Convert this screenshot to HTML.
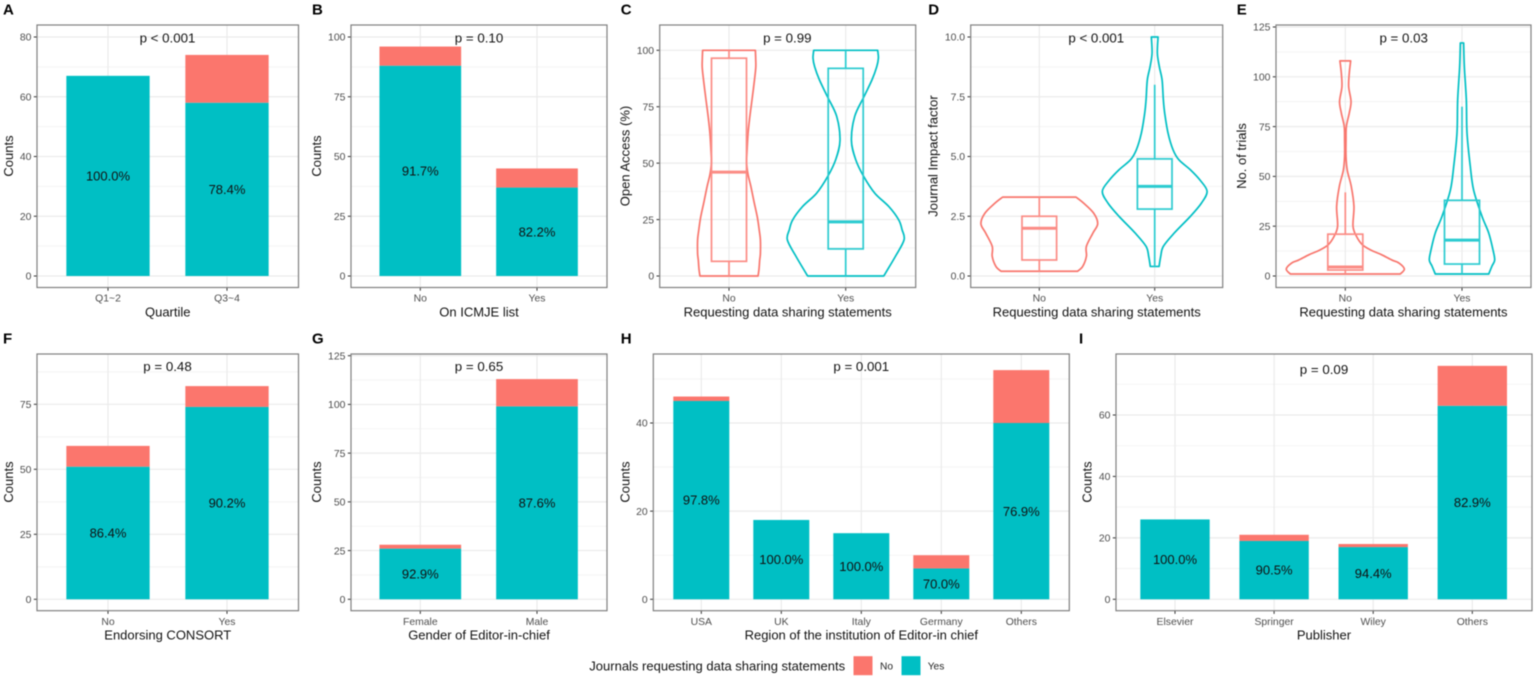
<!DOCTYPE html>
<html lang="en">
<head>
<meta charset="utf-8">
<title>Journals requesting data sharing statements</title>
<style>
html,body{margin:0;padding:0;background:#fff;width:1535px;height:678px;overflow:hidden}
svg{display:block;font-family:"Liberation Sans",Arial,sans-serif;filter:blur(.4px)}
</style>
</head>
<body>
<svg id="figure" xmlns="http://www.w3.org/2000/svg" width="1535" height="678" viewBox="0 0 1535 678"></svg>
<script>
// ---- Panel A ----
const aCategories = ['Q1~2', 'Q3~4'];
const aYes = [67, 58];
const aNo = [0, 16];
const aPercent = ['100.0%', '78.4%'];
const aTicks = [0, 20, 40, 60, 80];
// ---- Panel B ----
const bCategories = ['No', 'Yes'];
const bYes = [88, 37];
const bNo = [8, 8];
const bPercent = ['91.7%', '82.2%'];
const bTicks = [0, 25, 50, 75, 100];
// ---- Panel C ----
const cCategories = ['No', 'Yes'];
const cTicks = [0, 25, 50, 75, 100];
const cNoLevels = [100, 96, 92, 85, 78, 70, 63, 55, 50, 45, 40, 33, 26, 20, 16, 10, 7, 3, 0];
const cNoDensity = [22.6, 22.9, 22.9, 21.4, 19.7, 17.7, 16.3, 15.4, 15.1, 16.3, 18.6, 21.4, 24.3, 26, 26.9, 26.9, 26.3, 25.7, 24.9];
const cYesLevels = [100, 96.5, 92.7, 87, 79.5, 70.7, 60, 51.5, 44.1, 36.7, 30.8, 24.9, 20.5, 16, 8.7, 0];
const cYesDensity = [27.4, 28, 26.6, 22.6, 15.7, 7.7, 4.9, 8.6, 15.4, 24.9, 36.9, 45.4, 48.3, 50, 42.6, 32.6];
const cNoBox = [0, 6.5, 46, 96.5, 100];
const cYesBox = [0, 12, 24, 92, 100];
// ---- Panel D ----
const dCategories = ['No', 'Yes'];
const dTicks = [0, 2.5, 5, 7.5, 10];
const dNoLevels = [3.3, 3.05, 2.63, 2.19, 1.8, 1.24, 0.82, 0.4, 0.2];
const dNoDensity = [31.8, 38.4, 47.1, 50.6, 46.5, 40.8, 40.8, 37.6, 33.2];
const dYesLevels = [10, 9.32, 8.76, 8.2, 7.37, 6.8, 5.97, 5.28, 4.86, 4.44, 4, 3.54, 3.05, 2.5, 1.8, 1.24, 0.82, 0.4];
const dYesDensity = [2.9, 2.3, 4, 6.4, 7.5, 8.7, 11.6, 15.9, 21, 31, 39.5, 45.4, 40.5, 31, 17, 7.5, 5.2, 3.8];
const dNoBox = [0.2, 0.67, 2.0, 2.5, 3.3];
const dYesBox = [0.4, 2.8, 3.75, 4.9, 8];
// ---- Panel E ----
const eCategories = ['No', 'Yes'];
const eTicks = [0, 25, 50, 75, 100, 125];
const eNoLevels = [108, 101.8, 95, 87.6, 81.8, 75, 68, 60, 53, 45, 35, 25, 20, 15.7, 13, 10.7, 8, 6.5, 3.5, 1];
const eNoDensity = [4.6, 3.4, 2.9, 4.9, 3.4, 0.9, 0.6, 0.6, 1.7, 5.1, 7.4, 6.6, 9.5, 14.6, 22, 31, 40, 46, 50.6, 47.1];
const eYesLevels = [117, 105, 88.5, 71.7, 55, 43, 30, 21.6, 13, 8, 5, 1];
const eYesDensity = [1.4, 2, 3.7, 4.3, 7.1, 10, 17.1, 22.9, 26.6, 28, 25.7, 22.9];
const eNoBox = [1, 3, 4.5, 21, 42];
const eYesBox = [1, 6, 18, 38, 85];
// ---- Panel F ----
const fCategories = ['No', 'Yes'];
const fYes = [51, 74];
const fNo = [8, 8];
const fPercent = ['86.4%', '90.2%'];
const fTicks = [0, 25, 50, 75];
// ---- Panel G ----
const gCategories = ['Female', 'Male'];
const gYes = [26, 99];
const gNo = [2, 14];
const gPercent = ['92.9%', '87.6%'];
const gTicks = [0, 25, 50, 75, 100, 125];
// ---- Panel H ----
const hCategories = ['USA', 'UK', 'Italy', 'Germany', 'Others'];
const hYes = [45, 18, 15, 7, 40];
const hNo = [1, 0, 0, 3, 12];
const hPercent = ['97.8%', '100.0%', '100.0%', '70.0%', '76.9%'];
const hTicks = [0, 20, 40];
// ---- Panel I ----
const iCategories = ['Elsevier', 'Springer', 'Wiley', 'Others'];
const iYes = [26, 19, 17, 63];
const iNo = [0, 2, 1, 13];
const iPercent = ['100.0%', '90.5%', '94.4%', '82.9%'];
const iTicks = [0, 20, 40, 60];

const RED = '#F8766D', TEAL = '#00BFC4', RED_BOX = '#FB8C85', TEAL_BOX = '#2BCBD0';
const svg = document.getElementById('figure');
const NS = 'http://www.w3.org/2000/svg';

function mk(tag, attrs, parent, text) {
  const el = document.createElementNS(NS, tag);
  for (const k in attrs) el.setAttribute(k, attrs[k]);
  if (text !== undefined) el.textContent = text;
  parent.appendChild(el);
  return el;
}
function slug(s) { return String(s).toLowerCase().replace(/[^a-z0-9]+/g, '-'); }

// frame: gridlines, ticks, labels and border, returns axis functions
function drawFrame(p) {
  const g = mk('g', {}, svg);
  
  
  const yAxis = v => p.y0 - v * (p.y0 - p.refPx) / p.refVal;
  const xAxis = i => p.x0 + i * p.step;
  const w = p.right - p.left, h = p.bottom - p.top;
  const bg = mk('rect', { x: p.left, y: p.top, width: w, height: h, fill: '#fff' }, g);
  
  

  // minor grid
  const gap = p.ticks[1] - p.ticks[0];
  const minors = p.ticks.map(t => t + gap / 2);
  minors.forEach(m => {
    const py = yAxis(m);
    if (py <= p.top || py >= p.bottom) return;
    const line = mk('line', { x1: p.left, x2: p.right, y1: py, y2: py, stroke: '#f1f1f1', 'stroke-width': 0.8 }, g);
    
    
  });
  // major grid + y ticks
  p.ticks.forEach(t => {
    const py = yAxis(t);
    const line = mk('line', { x1: p.left, x2: p.right, y1: py, y2: py, stroke: '#ebebeb', 'stroke-width': 1.2 }, g);
    
    
    const tick = mk('line', { x1: p.left - 3.2, x2: p.left, y1: py, y2: py, stroke: '#333', 'stroke-width': 1 }, g);
    
    
    const label = mk('text', { x: p.left - 5.6, y: py + 3.7, 'text-anchor': 'end', 'font-size': 10.4, fill: '#4d4d4d' }, g, p.tickFormat ? t.toFixed(1) : t);
    
    
  });
  // vertical grid + x ticks
  p.categories.forEach((c, i) => {
    const px = xAxis(i);
    const line = mk('line', { x1: px, x2: px, y1: p.top, y2: p.bottom, stroke: '#ebebeb', 'stroke-width': 1.2 }, g);
    
    
    const tick = mk('line', { x1: px, x2: px, y1: p.bottom, y2: p.bottom + 3.2, stroke: '#333', 'stroke-width': 1 }, g);
    
    
    const label = mk('text', { x: px, y: p.bottom + 14.2, 'text-anchor': 'middle', 'font-size': 10.4, fill: '#4d4d4d' }, g, c);
    
    
  });
  return { g, xAxis, yAxis };
}

function drawOverlay(p, g) {
  const border = mk('rect', { x: p.left, y: p.top, width: p.right - p.left, height: p.bottom - p.top, fill: 'none', stroke: '#7f7f7f', 'stroke-width': 1.2 }, g);
  
  
  const xt = mk('text', { x: (p.left + p.right) / 2, y: p.bottom + 29, 'text-anchor': 'middle', 'font-size': 13, fill: '#111' }, g, p.xTitle);
  
  
  const yt = mk('text', { transform: 'translate(' + (p.yTitleX + 4.5) + ' ' + p.yTitleY + ') rotate(-90)', 'text-anchor': 'middle', 'font-size': 13, fill: '#111' }, g, p.yTitle);
  
  
  const pv = mk('text', { x: p.pX, y: p.pY, 'text-anchor': 'middle', 'font-size': 13.3, fill: '#111' }, g, p.pText);
  
  
  const tag = mk('text', { x: p.tagX, y: p.tagY, 'font-size': 15, 'font-weight': 700, fill: '#000' }, g, p.id);
  
  
}

function drawBars(p) {
  const { g, xAxis, yAxis } = drawFrame(p);
  const bw = p.step * 0.7;
  p.categories.forEach((c, i) => {
    const yes = p.yes[i], no = p.no[i];
    const barYes = mk('rect', { x: xAxis(i) - bw / 2, y: yAxis(yes), width: bw, height: yAxis(0) - yAxis(yes), fill: TEAL }, g);
    
    
    if (no > 0) {
      const barNo = mk('rect', { x: xAxis(i) - bw / 2, y: yAxis(yes + no), width: bw, height: yAxis(yes) - yAxis(yes + no), fill: '#FB766D' }, g);
      
      
    }
    const pct = mk('text', { x: xAxis(i), y: yAxis(yes / 2) + 4.6, 'text-anchor': 'middle', 'font-size': 13, fill: '#111' }, g, p.percent[i]);
    
    
  });
  drawOverlay(p, g);
}

// smooth curve segments through ordered points (Catmull-Rom)
function curve(pts) {
  let d = '';
  for (let i = 0; i < pts.length - 1; i++) {
    const a = pts[Math.max(i - 1, 0)], b = pts[i], c = pts[i + 1], e = pts[Math.min(i + 2, pts.length - 1)];
    d += ' C' + (b[0] + (c[0] - a[0]) / 6).toFixed(2) + ' ' + (b[1] + (c[1] - a[1]) / 6).toFixed(2) + ' ' +
      (c[0] - (e[0] - b[0]) / 6).toFixed(2) + ' ' + (c[1] - (e[1] - b[1]) / 6).toFixed(2) + ' ' +
      c[0].toFixed(2) + ' ' + c[1].toFixed(2);
  }
  return d;
}

function drawViolins(p) {
  const { g, xAxis, yAxis } = drawFrame(p);
  p.violins.forEach((v, i) => {
    const cx = xAxis(i);
    const hw = d => d / 100 * p.step;
    const right = v.levels.map((l, k) => [cx + hw(v.density[k]), yAxis(l)]);
    const left = v.levels.map((l, k) => [cx - hw(v.density[k]), yAxis(l)]).reverse();
    const d = 'M' + right[0][0].toFixed(2) + ' ' + right[0][1].toFixed(2) + curve(right) +
      ' L' + left[0][0].toFixed(2) + ' ' + left[0][1].toFixed(2) + curve(left) + ' Z';
    const vio = mk('path', { d, fill: 'none', stroke: v.color, 'stroke-width': 1.7, 'stroke-linejoin': 'round' }, g);
    
    

    const [lo, q1, med, q3, hi] = v.box;
    const bw = p.step * 0.3;
    const boxG = mk('g', { stroke: v.boxColor, fill: 'none', 'stroke-width': 1.7 }, g);
    
    
    const w1 = mk('line', { x1: cx, x2: cx, y1: yAxis(lo), y2: yAxis(q1) }, boxG);
    
    
    const w2 = mk('line', { x1: cx, x2: cx, y1: yAxis(q3), y2: yAxis(hi) }, boxG);
    
    
    const box = mk('rect', { x: cx - bw / 2, y: yAxis(q3), width: bw, height: yAxis(q1) - yAxis(q3) }, boxG);
    
    
    const medLine = mk('line', { x1: cx - bw / 2, x2: cx + bw / 2, y1: yAxis(med), y2: yAxis(med), 'stroke-width': 3 }, boxG);
    
    
  });
  drawOverlay(p, g);
}

const row1 = { top: 25, bottom: 287.5, y0: 276, yTitleY: 156, pY: 42.3, tagY: 14.7 };
const row2 = { top: 354, bottom: 610.7, y0: 599.3, yTitleY: 482, pY: 371, tagY: 343.5 };

drawBars(Object.assign({}, row1, { id: 'A', left: 37, right: 298.5, x0: 108, step: 119, refVal: 80, refPx: 37,
  categories: aCategories, yes: aYes, no: aNo, percent: aPercent, ticks: aTicks,
  xTitle: 'Quartile', yTitle: 'Counts', yTitleX: 8.5, pText: 'p < 0.001', pX: 167.5, tagX: 3 }));
drawBars(Object.assign({}, row1, { id: 'B', left: 351, right: 607, x0: 420.3, step: 116.7, refVal: 100, refPx: 37,
  categories: bCategories, yes: bYes, no: bNo, percent: bPercent, ticks: bTicks,
  xTitle: 'On ICMJE list', yTitle: 'Counts', yTitleX: 316.7, pText: 'p = 0.10', pX: 479, tagX: 312 }));
drawViolins(Object.assign({}, row1, { id: 'C', left: 659.7, right: 915.7, x0: 729, step: 116.7, refVal: 100, refPx: 50.3,
  categories: cCategories, ticks: cTicks,
  violins: [
    { levels: cNoLevels, density: cNoDensity, box: cNoBox, color: RED, boxColor: RED_BOX },
    { levels: cYesLevels, density: cYesDensity, box: cYesBox, color: TEAL, boxColor: TEAL_BOX }
  ],
  xTitle: 'Requesting data sharing statements', yTitle: 'Open Access (%)', yTitleX: 625, pText: 'p = 0.99', pX: 787.3, tagX: 620.7 }));
drawViolins(Object.assign({}, row1, { id: 'D', left: 970.7, right: 1222.7, x0: 1039.3, step: 115.4, refVal: 10, refPx: 37,
  categories: dCategories, ticks: dTicks, tickFormat: true,
  violins: [
    { levels: dNoLevels, density: dNoDensity, box: dNoBox, color: RED, boxColor: RED_BOX },
    { levels: dYesLevels, density: dYesDensity, box: dYesBox, color: TEAL, boxColor: TEAL_BOX }
  ],
  xTitle: 'Requesting data sharing statements', yTitle: 'Journal Impact factor', yTitleX: 933, pText: 'p < 0.001', pX: 1096.3, tagX: 928.3 }));
drawViolins(Object.assign({}, row1, { id: 'E', left: 1276, right: 1531, x0: 1345.3, step: 116.7, refVal: 125, refPx: 27,
  categories: eCategories, ticks: eTicks,
  violins: [
    { levels: eNoLevels, density: eNoDensity, box: eNoBox, color: RED, boxColor: RED_BOX },
    { levels: eYesLevels, density: eYesDensity, box: eYesBox, color: TEAL, boxColor: TEAL_BOX }
  ],
  xTitle: 'Requesting data sharing statements', yTitle: 'No. of trials', yTitleX: 1241.7, pText: 'p = 0.03', pX: 1403.7, tagX: 1236.7 }));
drawBars(Object.assign({}, row2, { id: 'F', left: 37, right: 298.5, x0: 108, step: 119, refVal: 75, refPx: 404.3,
  categories: fCategories, yes: fYes, no: fNo, percent: fPercent, ticks: fTicks,
  xTitle: 'Endorsing CONSORT', yTitle: 'Counts', yTitleX: 8.5, pText: 'p = 0.48', pX: 167.5, tagX: 3 }));
drawBars(Object.assign({}, row2, { id: 'G', left: 351, right: 607, x0: 420.3, step: 116.7, refVal: 125, refPx: 355.7,
  categories: gCategories, yes: gYes, no: gNo, percent: gPercent, ticks: gTicks,
  xTitle: 'Gender of Editor-in-chief', yTitle: 'Counts', yTitleX: 316.7, pText: 'p = 0.65', pX: 479, tagX: 312 }));
drawBars(Object.assign({}, row2, { id: 'H', left: 653.3, right: 1069.3, x0: 701.3, step: 80, refVal: 40, refPx: 423,
  categories: hCategories, yes: hYes, no: hNo, percent: hPercent, ticks: hTicks,
  xTitle: 'Region of the institution of Editor-in chief', yTitle: 'Counts', yTitleX: 625, pText: 'p = 0.001', pX: 861.3, tagX: 620.7 }));
drawBars(Object.assign({}, row2, { id: 'I', left: 1116, right: 1532, x0: 1175, step: 99.1, refVal: 60, refPx: 415,
  categories: iCategories, yes: iYes, no: iNo, percent: iPercent, ticks: iTicks,
  xTitle: 'Publisher', yTitle: 'Counts', yTitleX: 1087, pText: 'p = 0.09', pX: 1324, pY: 374, tagX: 1079 }));

// legend
const legend = mk('g', {}, svg);


const legendTitle = mk('text', { x: 589.3, y: 670.5, 'font-size': 13, fill: '#111' }, legend, 'Journals requesting data sharing statements');


const swNo = mk('rect', { x: 853.5, y: 656.2, width: 19, height: 19, fill: '#FB766D' }, legend);


const lblNo = mk('text', { x: 880, y: 669.7, 'font-size': 10.2, fill: '#222' }, legend, 'No');


const swYes = mk('rect', { x: 901.5, y: 656.2, width: 19, height: 19, fill: TEAL }, legend);


const lblYes = mk('text', { x: 927.7, y: 669.7, 'font-size': 10.2, fill: '#222' }, legend, 'Yes');


</script>
</body>
</html>
